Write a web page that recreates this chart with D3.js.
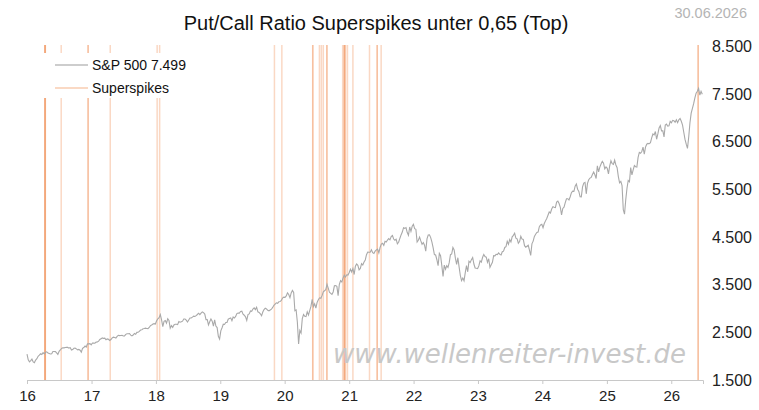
<!DOCTYPE html>
<html>
<head>
<meta charset="utf-8">
<script src="https://cdn.jsdelivr.net/npm/d3@7"></script>
<style>
	body { margin: 0; background: #fff; }
	svg { display: block; }
</style>
</head>
<body>
<script>
// weekly closes (Fridays)
var sp2016 = [2044,1922,1880,1907,1940,1880,1865,1918,1948,1999,2022,2050,2035,2073,2047,2081,2092,2065,2057,2047,2052,2099,2099,2096,2071,2037,2103,2130,2162,2175,2174,2183,2184,2184,2169,2180,2128,2139,2165,2168,2153,2133,2141,2126,2085,2164,2182,2213,2192,2259,2258,2264,2239];
var sp2017 = [2277,2275,2271,2295,2297,2316,2351,2367,2383,2373,2378,2344,2363,2355,2329,2349,2384,2399,2391,2382,2416,2439,2432,2433,2438,2423,2425,2459,2472,2472,2476,2441,2425,2443,2476,2461,2500,2502,2519,2549,2553,2575,2581,2588,2582,2579,2602,2642,2652,2675,2683,2674];
var sp2018 = [2743,2786,2810,2873,2762,2620,2732,2747,2691,2786,2752,2588,2641,2604,2656,2670,2670,2663,2728,2712,2721,2735,2779,2780,2755,2718,2760,2801,2802,2819,2840,2833,2850,2875,2902,2872,2905,2930,2914,2885,2767,2768,2658,2723,2781,2736,2633,2760,2633,2600,2417,2360];
var sp2019 = [2532,2596,2671,2665,2707,2708,2776,2793,2804,2743,2822,2800,2834,2893,2907,2905,2940,2946,2881,2860,2826,2752,2873,2887,2950,2942,2990,3014,2977,3026,2932,2919,2889,2847,2926,2979,3007,2992,2962,2952,2970,2986,3023,3067,3093,3120,3110,3141,3146,3169,3221,3240];
var sp2020 = [3235,3265,3330,3295,3226,3328,3380,3338,2954,2972,2711,2258,2541,2489,2790,2875,2837,2831,2930,2864,2955,3044,3194,3041,3098,3009,3130,3185,3225,3216,3271,3351,3373,3397,3508,3427,3341,3319,3298,3348,3477,3484,3465,3270,3509,3585,3557,3638,3699,3663,3709,3703];
var sp2021 = [3756,3825,3768,3841,3714,3887,3934,3907,3811,3842,3943,3913,3975,4020,4129,4185,4180,4181,4233,4174,4156,4204,4230,4247,4166,4281,4352,4370,4327,4412,4395,4437,4468,4442,4509,4535,4459,4433,4455,4357,4391,4471,4545,4605,4697,4683,4698,4595,4538,4712,4620,4726,4766];
var sp2022 = [4677,4663,4398,4432,4500,4419,4349,4385,4329,4204,4463,4543,4546,4488,4393,4272,4132,4123,4024,3901,4158,4109,3901,3675,3912,3825,3899,3863,3962,4130,4145,4280,4228,4058,3924,4067,3873,3693,3586,3640,3583,3753,3901,3771,3993,3965,4026,4072,3934,3852,3845,3840];
var sp2023 = [3895,3999,3973,4071,4136,4090,4079,3970,4045,3862,3917,3971,4109,4105,4138,4133,4169,4136,4124,4192,4205,4282,4299,4410,4348,4450,4399,4505,4536,4582,4478,4464,4370,4406,4516,4457,4450,4320,4288,4308,4328,4224,4117,4358,4415,4514,4559,4595,4604,4719,4755,4770];
var sp2024 = [4697,4784,4840,4891,4959,5027,5006,5089,5137,5124,5117,5234,5254,5204,5123,4967,5100,5128,5223,5303,5305,5278,5347,5432,5465,5460,5567,5615,5505,5459,5346,5344,5554,5634,5648,5408,5626,5703,5738,5751,5815,5865,5808,5729,5996,5870,5969,6032,6090,6051,5931,5971];
var sp2025 = [5942,5827,5997,6101,6041,6026,6115,6013,5955,5770,5639,5668,5581,5074,4982,5283,5525,5687,5660,5958,5803,5912,6000,5977,5968,6173,6279,6260,6297,6389,6238,6389,6450,6467,6460,6482,6584,6664,6644,6716,6553,6664,6791,6840,6728,6734,6603,6849,6870,6827,6834,6930];
var sp2026 = [6900,6950,6940,6910,6960,6900,6960,6990,6930,6850,6700,6550,6450,6360,6600,6900,7100,7200,7300,7420,7520,7560,7620,7480,7560,7499];

// days with a put/call superspike under 0.65 (repeats = clustered days)
var spikeDates = [
	"2016-04-11","2016-04-12","2016-04-13","2016-04-14",
	"2016-07-13",
	"2016-12-12","2016-12-13",
	"2017-04-17",
	"2018-01-08","2018-01-22",
	"2019-11-04","2019-12-16",
	"2020-06-08","2020-06-09",
	"2020-07-16","2020-07-27","2020-08-07",
	"2020-08-27","2020-08-28",
	"2020-11-25","2020-12-03","2020-12-04","2020-12-07","2020-12-11","2020-12-22",
	"2021-01-22","2021-04-26","2021-06-08","2021-06-09","2021-07-01",
	"2026-06-02","2026-06-03"
];

var yTicks = [1500, 2500, 3500, 4500, 5500, 6500, 7500, 8500];
var xYears = [2016, 2017, 2018, 2019, 2020, 2021, 2022, 2023, 2024, 2025, 2026];

var title = "Put/Call Ratio Superspikes unter 0,65 (Top)";
var dateLabel = "30.06.2026";
var lastValue = "7.499";

var width = 759, height = 410;
var font = "Liberation Sans, Arial, sans-serif";
var fmt = d3.formatLocale({decimal: ",", thousands: ".", grouping: [3], currency: ["", ""]}).format(",");

var closes = [].concat(sp2016, sp2017, sp2018, sp2019, sp2020, sp2021, sp2022, sp2023, sp2024, sp2025, sp2026);
var fridays = d3.timeFriday.range(new Date(2016, 0, 1), new Date(2026, 5, 27));
var data = closes.map(function(v, i) { return {date: fridays[i], close: v}; });
var parse = d3.timeParse("%Y-%m-%d");

var x = d3.scaleTime()
	.domain([new Date(2016, 0, 1), new Date(2026, 5, 30)])
	.range([27, 703]);
var y = d3.scaleLinear()
	.domain([1500, 8500])
	.range([380, 46.5]);

var svg = d3.select("body").append("svg")
	.attr("width", width)
	.attr("height", height);

// spikes
svg.append("g")
	.selectAll("line")
	.data(spikeDates)
	.enter().append("line")
		.attr("x1", function(d) { return x(parse(d)); })
		.attr("x2", function(d) { return x(parse(d)); })
		.attr("y1", y(8500) - 1.5)
		.attr("y2", y(1500))
		.style("stroke", "#ee7f3a")
		.style("stroke-opacity", 0.3)
		.style("stroke-width", 1.5);

// watermark
svg.append("text")
	.attr("x", 333)
	.attr("y", 363)
		.style("font-family", "DejaVu Sans")
		.style("font-style", "oblique")
		.style("font-size", "26px")
		.style("fill", "#c8c8c8")
	.text("www.wellenreiter-invest.de");

// S&P line
var line = d3.line()
	.x(function(d) { return x(d.date); })
	.y(function(d) { return y(d.close); });

svg.append("path")
	.datum(data)
	.attr("d", line)
		.style("fill", "none")
		.style("stroke", "#a9a9a9")
		.style("stroke-width", 1.1);

// x axis
var xAxis = svg.append("g")
	.attr("transform", "translate(0," + y(1500) + ")")
	.call(d3.axisBottom(x)
		.tickValues(xYears.map(function(yr) { return new Date(yr, 0, 1); }))
		.tickFormat(d3.timeFormat("%y"))
		.tickSize(4)
		.tickPadding(6));
xAxis.select(".domain").style("stroke", "#c8c8c8");
xAxis.selectAll(".tick line").style("stroke", "#c8c8c8");
xAxis.selectAll("text")
	.style("font-family", font)
	.style("font-size", "15px")
	.style("fill", "#222");

// y axis labels on the right
var yAxis = svg.append("g")
	.attr("transform", "translate(752,0)")
	.call(d3.axisRight(y)
		.tickValues(yTicks)
		.tickFormat(fmt)
		.tickSize(0)
		.tickPadding(0));
yAxis.select(".domain").remove();
yAxis.selectAll("text")
	.attr("text-anchor", "end")
	.style("font-family", font)
	.style("font-size", "16px")
	.style("fill", "#222");

// title and date
svg.append("text")
	.attr("x", 376)
	.attr("y", 30)
	.attr("text-anchor", "middle")
		.style("font-family", font)
		.style("font-size", "20px")
		.style("fill", "#111")
	.text(title);

svg.append("text")
	.attr("x", 747)
	.attr("y", 18)
	.attr("text-anchor", "end")
		.style("font-family", font)
		.style("font-size", "14.5px")
		.style("fill", "#b4b4b4")
	.text(dateLabel);

// legend
var legend = svg.append("g");
legend.append("rect")
	.attr("x", 36)
	.attr("y", 53)
	.attr("width", 160)
	.attr("height", 45)
	.style("fill", "#fff");

var items = [
	{label: "S&P 500 " + lastValue, color: "#bdbdbd", y: 65},
	{label: "Superspikes", color: "#f9cdb0", y: 88}
];
items.forEach(function(it) {
	legend.append("line")
		.attr("x1", 55).attr("x2", 88)
		.attr("y1", it.y).attr("y2", it.y)
		.style("stroke", it.color)
		.style("stroke-width", 1.5);
	legend.append("text")
		.attr("x", 92)
		.attr("y", it.y)
		.attr("dy", "0.35em")
			.style("font-family", font)
			.style("font-size", "14px")
			.style("fill", "#111")
		.text(it.label);
});
</script>
</body>
</html>
